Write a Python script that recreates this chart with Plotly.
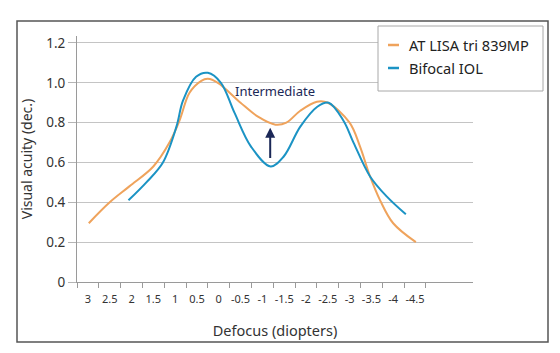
import plotly.graph_objects as go

# Data
tick_vals = [3, 2.5, 2, 1.5, 1, 0.5, 0, -0.5, -1, -1.5, -2, -2.5, -3, -3.5, -4, -4.5]
tick_text = ["3", "2.5", "2", "1.5", "1", "0.5", "0", "-0.5", "-1", "-1.5", "-2", "-2.5", "-3", "-3.5", "-4", "-4.5"]

lisa_x = [2.98, 2.5, 2.05, 1.5, 1.13, 0.9, 0.67, 0.4, 0.25, 0.02, -0.5, -0.9, -1.3, -1.55, -1.87, -2.25, -2.5, -3.0, -3.24, -3.47, -3.7, -4.0, -4.52]
lisa_y = [0.295, 0.40, 0.48, 0.58, 0.70, 0.81, 0.95, 1.01, 1.02, 1.00, 0.90, 0.83, 0.79, 0.80, 0.86, 0.905, 0.90, 0.80, 0.68, 0.53, 0.41, 0.295, 0.20]

bif_x = [2.07, 1.66, 1.28, 0.97, 0.82, 0.52, 0.25, -0.05, -0.36, -0.74, -1.19, -1.49, -1.87, -2.26, -2.52, -2.86, -3.09, -3.47, -3.85, -4.29]
bif_y = [0.41, 0.50, 0.60, 0.78, 0.91, 1.03, 1.05, 1.00, 0.85, 0.68, 0.58, 0.63, 0.78, 0.88, 0.90, 0.81, 0.70, 0.53, 0.43, 0.34]

series_names = ["AT LISA tri 839MP", "Bifocal IOL"]
ORANGE = "#EFA35C"
BLUE = "#1B93C4"
NAVY = "#1B2857"
FONT = "Noto Sans"

W, H = 560, 353
L, R, T, B = 77, 473, 36, 282  # plot area in pixels


def px(x):
    return (x - L) / (R - L)


def py(y):
    return (B - y) / (B - T)


fig = go.Figure()
fig.add_trace(go.Scatter(x=lisa_x, y=lisa_y, mode="lines", name=series_names[0],
                         line=dict(color=ORANGE, width=2, shape="spline", smoothing=1.0),
                         showlegend=False))
fig.add_trace(go.Scatter(x=bif_x, y=bif_y, mode="lines", name=series_names[1],
                         line=dict(color=BLUE, width=2, shape="spline", smoothing=1.0),
                         showlegend=False))

minor_vals = [3.25 - 0.5 * k for k in range(17)]

fig.update_layout(
    width=W, height=H,
    margin=dict(l=L, r=W - R, t=T, b=H - B),
    paper_bgcolor="white", plot_bgcolor="white",
    font=dict(family=FONT, color="#333333"),
    xaxis=dict(range=[3.25, -5.83], tickmode="array", tickvals=tick_vals, ticktext=tick_text,
               ticks="", tickfont=dict(size=11, color="#333333"), ticklabelstandoff=7,
               showgrid=False, zeroline=False, showline=True, linecolor="#9a9a9a", linewidth=1,
               minor=dict(tickvals=minor_vals, ticks="outside", ticklen=5, tickcolor="#9a9a9a",
                          showgrid=False),
               title=dict(text="Defocus (diopters)", font=dict(size=14.5, color="#333333"), standoff=20)),
    yaxis=dict(range=[0, 1.235], tickmode="array", tickvals=[0, 0.2, 0.4, 0.6, 0.8, 1.0, 1.2],
               ticktext=["0", "0.2", "0.4", "0.6", "0.8", "1.0", "1.2"],
               ticks="outside", ticklen=8, tickcolor="#b5b5b5",
               tickfont=dict(size=13.5, color="#333333"),
               showgrid=True, gridcolor="#c4c4c4", gridwidth=1, zeroline=False,
               showline=True, linecolor="#9a9a9a", linewidth=1,
               title=dict(text="Visual acuity (dec.)", font=dict(size=14, color="#333333"), standoff=10)),
)

shapes = []
# outer frame
shapes.append(dict(type="rect", xref="paper", yref="paper",
                   x0=px(17), x1=px(548), y0=py(342), y1=py(21),
                   line=dict(color="#555555", width=1.5), fillcolor="rgba(0,0,0,0)", layer="below"))
# legend box
shapes.append(dict(type="rect", xref="paper", yref="paper",
                   x0=px(378), x1=px(543), y0=py(91), y1=py(26),
                   line=dict(color="#a8a8a8", width=1), fillcolor="white"))
# legend swatches
for yy, col in [(45, ORANGE), (68, BLUE)]:
    shapes.append(dict(type="line", xref="paper", yref="paper",
                       x0=px(388), x1=px(399), y0=py(yy), y1=py(yy),
                       line=dict(color=col, width=2.5)))
fig.update_layout(shapes=shapes)

annotations = []
for yy, name in [(45, series_names[0]), (68, series_names[1])]:
    annotations.append(dict(xref="paper", yref="paper", x=px(407), y=py(yy), text=name,
                            showarrow=False, xanchor="left", yanchor="middle",
                            font=dict(size=14.6, color="#222222", family=FONT)))
annotations.append(dict(x=-1.29, y=0.96, xref="x", yref="y", text="Intermediate", showarrow=False,
                        font=dict(size=13, color=NAVY, family=FONT)))
annotations.append(dict(x=-1.18, y=0.775, ax=-1.18, ay=0.615, xref="x", yref="y", axref="x", ayref="y",
                        text="", showarrow=True, arrowhead=2, arrowsize=1, arrowwidth=2, arrowcolor=NAVY))
fig.update_layout(annotations=annotations)

fig.write_html("out.html")
